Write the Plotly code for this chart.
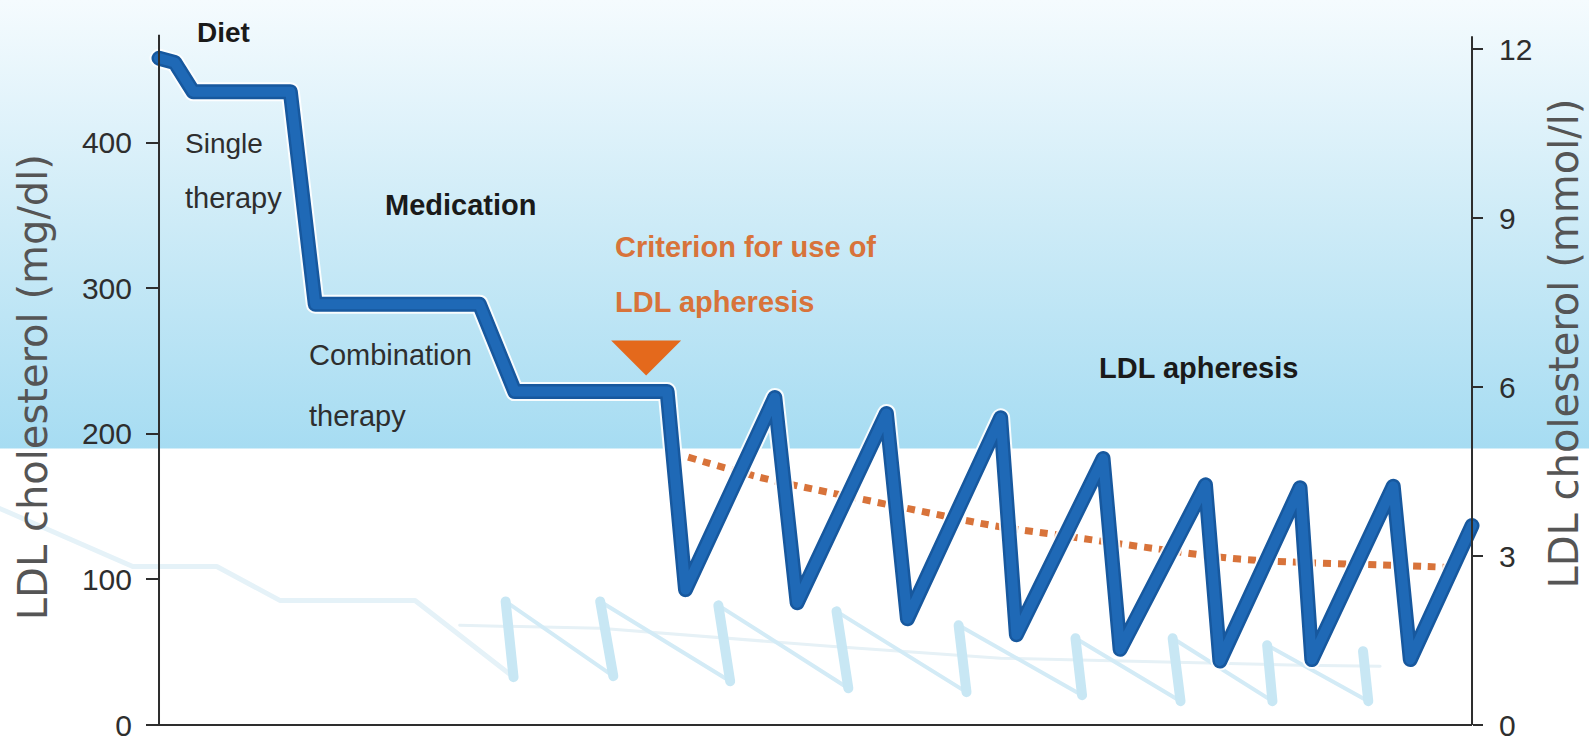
import plotly.graph_objects as go

# ---------------------------------------------------------------------------
# Data: LDL cholesterol (mg/dl) over the course of treatment (time in weeks)
# ---------------------------------------------------------------------------
course_t = [0, 1.2, 2.6, 10.0, 11.9, 24.4, 27.1, 38.7,
            40.1, 46.9, 48.6, 55.4, 57.0, 64.1, 65.3, 71.9, 73.2,
            79.7, 80.8, 86.9, 87.8, 94.0, 95.3, 100.0]
course_ldl = [458, 455, 435, 435, 289, 289, 229, 229,
              93, 225, 84, 214, 73, 211, 62, 183, 52,
              165, 44, 163, 45, 164, 45, 137]

# time-averaged level during the apheresis phase
mean_t = [40.3, 45.8, 50.9, 58.5, 63.5, 68.1, 76.0, 82.3, 96.3, 98.7]
mean_ldl = [184, 170, 160, 146, 137, 131, 121, 114, 109, 108]

# faint floor reflection of the course
reflect_steps_t = [-12.1, -2.0, 4.4, 9.2, 19.5, 27.0]
reflect_steps_ldl = [148.6, 108.9, 108.9, 85.6, 85.6, 32.9]
reflect_saw_t = [27.0, 26.4, 34.6, 33.6, 43.5, 42.6, 52.5, 51.6, 61.5, 60.9,
                 70.3, 69.8, 77.8, 77.2, 84.8, 84.4, 92.1, 91.7]
reflect_saw_ldl = [32.9, 84.9, 33.6, 84.9, 30.1, 82.2, 25.3, 78.1, 22.6, 68.5,
                   20.5, 59.6, 16.4, 59.6, 16.4, 54.8, 16.4, 50.7]
reflect_mean_t = [22.9, 33.6, 51.1, 64.1, 86.9, 93.0]
reflect_mean_ldl = [68.5, 66.4, 54.1, 45.9, 41.1, 40.4]

# treatment threshold for starting apheresis and where its marker sits
criterion_t = 37.1
criterion_ldl = 252

# axis ticks
mgdl_ticks = [0, 100, 200, 300, 400]
mmol_ticks = [0, 3, 6, 9, 12]
MGDL_PER_MMOL = 38.67

# shaded "too high" zone
zone_floor = 190

# ---------------------------------------------------------------------------
X_RANGE = [-12.11, 108.91]
Y_RANGE = [-10.27, 497.95]

SANS = "Liberation Sans, Arial, Helvetica, sans-serif"
WIDE = "DejaVu Sans, Liberation Sans, Arial, sans-serif"
INK = "#2e2e2e"
ORANGE = "#d8733a"

fig = go.Figure()

# gradient zone behind the chart
fig.add_trace(go.Scatter(
    x=[X_RANGE[0], X_RANGE[1], X_RANGE[1], X_RANGE[0], X_RANGE[0]],
    y=[zone_floor, zone_floor, Y_RANGE[1], Y_RANGE[1], zone_floor],
    mode="lines", line=dict(width=0), fill="toself",
    fillgradient=dict(type="vertical", start=zone_floor, stop=Y_RANGE[1],
                      colorscale=[[0, "#a6dcf2"], [0.5, "#cdebf7"], [1, "#f5fbfe"]]),
    hoverinfo="skip", showlegend=False))

# reflection: thin falling strokes, broader rising bars
fig.add_trace(go.Scatter(x=reflect_steps_t, y=reflect_steps_ldl, mode="lines",
                         line=dict(color="#e5f2f8", width=5),
                         hoverinfo="skip", showlegend=False))
fig.add_trace(go.Scatter(x=reflect_mean_t, y=reflect_mean_ldl, mode="lines",
                         line=dict(color="#e6f1f6", width=3),
                         hoverinfo="skip", showlegend=False))
fig.add_trace(go.Scatter(x=reflect_saw_t, y=reflect_saw_ldl, mode="lines",
                         line=dict(color="#d3ebf6", width=4),
                         hoverinfo="skip", showlegend=False))
bars_t, bars_ldl = [], []
for i in range(0, len(reflect_saw_t) - 1, 2):
    bars_t += [reflect_saw_t[i], reflect_saw_t[i + 1], None]
    bars_ldl += [reflect_saw_ldl[i], reflect_saw_ldl[i + 1], None]
fig.add_trace(go.Scatter(x=bars_t, y=bars_ldl, mode="lines",
                         line=dict(color="#c8e7f4", width=10),
                         hoverinfo="skip", showlegend=False))

# mean level (dotted)
fig.add_trace(go.Scatter(x=mean_t, y=mean_ldl, mode="lines",
                         line=dict(color=ORANGE, width=7, dash="8px,7px", shape="spline"),
                         hoverinfo="skip", showlegend=False))

# LDL course: light halo, dark rim, core
for col, w in [("rgba(255,255,255,0.9)", 19), ("#17589e", 15), ("#1f69b6", 10)]:
    fig.add_trace(go.Scatter(x=course_t, y=course_ldl, mode="lines",
                             line=dict(color=col, width=w),
                             hoverinfo="skip", showlegend=False))

# the mmol/l axis needs a trace to exist
fig.add_trace(go.Scatter(x=[None], y=[None], yaxis="y2", showlegend=False))

# ---------------------------------------------------------------------------
shapes = [
    dict(type="line", xref="x", yref="y", x0=0, x1=0, y0=0, y1=474,
         line=dict(color=INK, width=2)),
    dict(type="line", xref="x", yref="y", x0=100, x1=100, y0=0, y1=473,
         line=dict(color=INK, width=2)),
    dict(type="line", xref="x", yref="y", x0=0, x1=100, y0=0, y1=0,
         line=dict(color=INK, width=2)),
    dict(type="path", xref="x", yref="y", xsizemode="pixel", ysizemode="pixel",
         xanchor=criterion_t, yanchor=criterion_ldl,
         path="M-35,17.5 L35,17.5 L0,-17.5 Z",
         fillcolor="#e4691c", line=dict(width=0), layer="above"),
]


def label(text, t, v, size=29, color=INK, bold=False, family=SANS, angle=0,
          anchor="left"):
    return dict(text=text, x=t, y=v, xref="x", yref="y", showarrow=False,
                xanchor=anchor, yanchor="middle", textangle=angle,
                font=dict(family=family, size=size, color=color,
                          weight="bold" if bold else "normal"))


annotations = [
    label("Diet", 2.74, 475.7, size=28, color="#1a1a1a", bold=True),
    label("Single", 1.83, 399.7, size=28),
    label("therapy", 1.83, 362.0, size=29),
    label("Medication", 17.06, 357.5, size=29, color="#1a1a1a", bold=True),
    label("Combination", 11.27, 254.0, size=29),
    label("therapy", 11.27, 212.5, size=29),
    label("Criterion for use of", 34.58, 328.4, size=29, color=ORANGE, bold=True),
    label("LDL apheresis", 34.58, 290.4, size=29, color=ORANGE, bold=True),
    label("LDL apheresis", 71.44, 244.9, size=29, color="#1a1a1a", bold=True),
    label("LDL cholesterol (mg/dl)", -9.6, 232, size=40, color="#555555",
          family=WIDE, angle=-90, anchor="center"),
    label("LDL cholesterol (mmol/l)", 107.0, 262, size=40, color="#555555",
          family=WIDE, angle=-90, anchor="center"),
]

fig.update_layout(
    width=1589, height=742,
    margin=dict(l=0, r=0, t=0, b=0),
    paper_bgcolor="white", plot_bgcolor="white",
    hovermode=False,
    xaxis=dict(range=X_RANGE, domain=[0, 1], visible=False, fixedrange=True),
    yaxis=dict(range=Y_RANGE, domain=[0, 1], anchor="free", position=159 / 1589,
               side="left", showline=False, showgrid=False, zeroline=False,
               tickmode="array", tickvals=mgdl_ticks, ticks="outside",
               ticklen=13, tickwidth=2, tickcolor=INK, ticklabelstandoff=8,
               ticklabeloverflow="allow",
               tickfont=dict(family=SANS, size=30, color=INK), fixedrange=True),
    yaxis2=dict(range=[r / MGDL_PER_MMOL for r in Y_RANGE], overlaying="y",
                anchor="free", position=1472 / 1589, side="right",
                showline=False, showgrid=False, zeroline=False,
                tickmode="array", tickvals=mmol_ticks, ticks="outside",
                ticklen=10, tickwidth=2, tickcolor=INK, ticklabelstandoff=10,
                ticklabeloverflow="allow",
                tickfont=dict(family=SANS, size=30, color=INK), fixedrange=True),
    shapes=shapes,
    annotations=annotations,
)

# round joins/caps on the solid lines
post = """
document.querySelectorAll('.scatterlayer path.js-line').forEach(function(p){
  p.style.strokeLinejoin = 'round';
  if (!p.style.strokeDasharray) { p.style.strokeLinecap = 'round'; }
});
"""

fig.write_html("out.html", config={"displayModeBar": False}, post_script=post)
